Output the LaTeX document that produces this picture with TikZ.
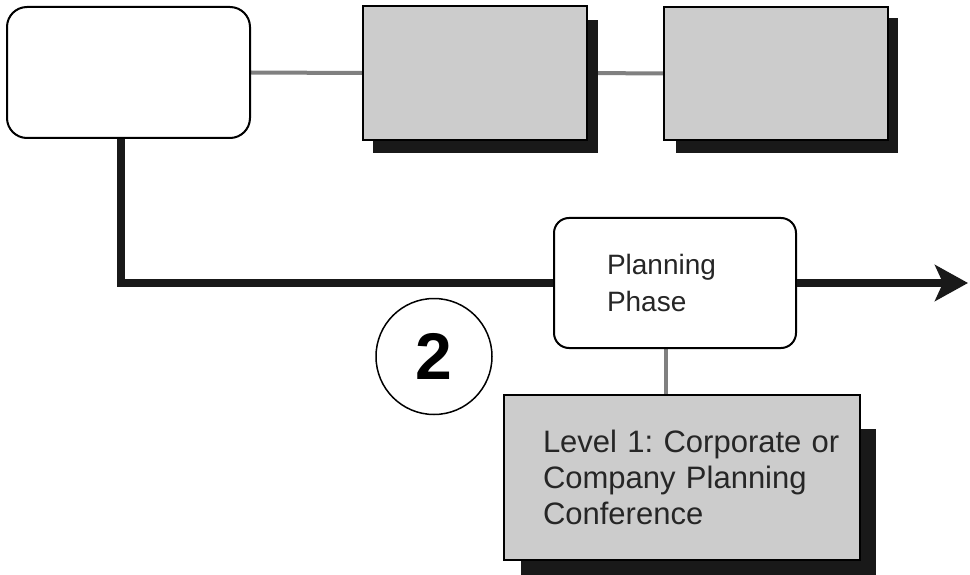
\documentclass[tikz,border=0pt]{standalone}
\usepackage{fontspec}
\setmainfont{Liberation Sans}
\frenchspacing
\usetikzlibrary{calc,arrows.meta,backgrounds}
\def\boxshadow(#1)(#2:#3)(#4:#5){\fill[black!90] ($(#1.south west)+(#2,#3)$) rectangle ($(#1.north east)+(#4,#5)$);}

\tikzset{
  roundbox/.style={draw, line width=2pt, rounded corners=#1, fill=white},
  roundbox/.default=15pt,
  greybox/.style={draw, line width=2pt, fill=black!20},
  greyline/.style={line width=4pt, color=black!50},
  mainline/.style={line width=7.5pt, color=black!90}
}

\begin{document}
\begin{tikzpicture}[x=1pt, y=-1pt, text=black!85]
		%%%%% START %%%%%
		\useasboundingbox (0, 0) rectangle (970, 575);
		
		\node[roundbox=20pt, minimum width=243pt, minimum height=131pt] (start) at (128.5, 72.5) {};
		\node[greybox, minimum width=224pt, minimum height=134pt] (costs) at (475, 73) {};
		\node[greybox, minimum width=224pt, minimum height=133pt] (budget) at (776, 73.5) {};
		
		\node[roundbox, text width=136pt, inner xsep=53pt, minimum height=130pt, align=left,
		      font=\fontsize{28}{37}\selectfont] (plan) at (675, 283) {Planning\\Phase};
		\node[greybox, text width=278pt, inner xsep=39pt, minimum height=165pt, align=left,
		      font=\fontsize{31}{36}\selectfont] (level) at (682, 477.5)
		      {\mbox{Level 1: Corporate or}\\Company Planning\\Conference};
		
		\node[draw, circle, line width=1.5pt, minimum size=116pt, inner sep=0pt, text=black,
		      font=\fontsize{66}{66}\selectfont\bfseries] (two) at (434, 356.5) {2};
		
		\begin{scope}[on background layer]
			\draw[greyline] (start.east) -- (costs.west);
			\draw[greyline] (costs.east) -- (budget.west);
			\draw[greyline] ([xshift=-9pt]plan.south) -- ([xshift=-9pt]plan.south |- level.north);
			\boxshadow(costs)(11:12)(10:15)
			\boxshadow(budget)(13:12)(9:12)
			\boxshadow(level)(18:20)(15:35)
		\end{scope}
		
		\coordinate (tip) at (968, 283);
		\draw[mainline] ([xshift=-7.5pt]start.south) |- (plan.west);
		\draw[mainline, -{Stealth[length=33pt, width=36pt, inset=8pt]}] (plan.east) -- (tip);
		
		%%%%% END %%%%%
\end{tikzpicture}
\end{document}
